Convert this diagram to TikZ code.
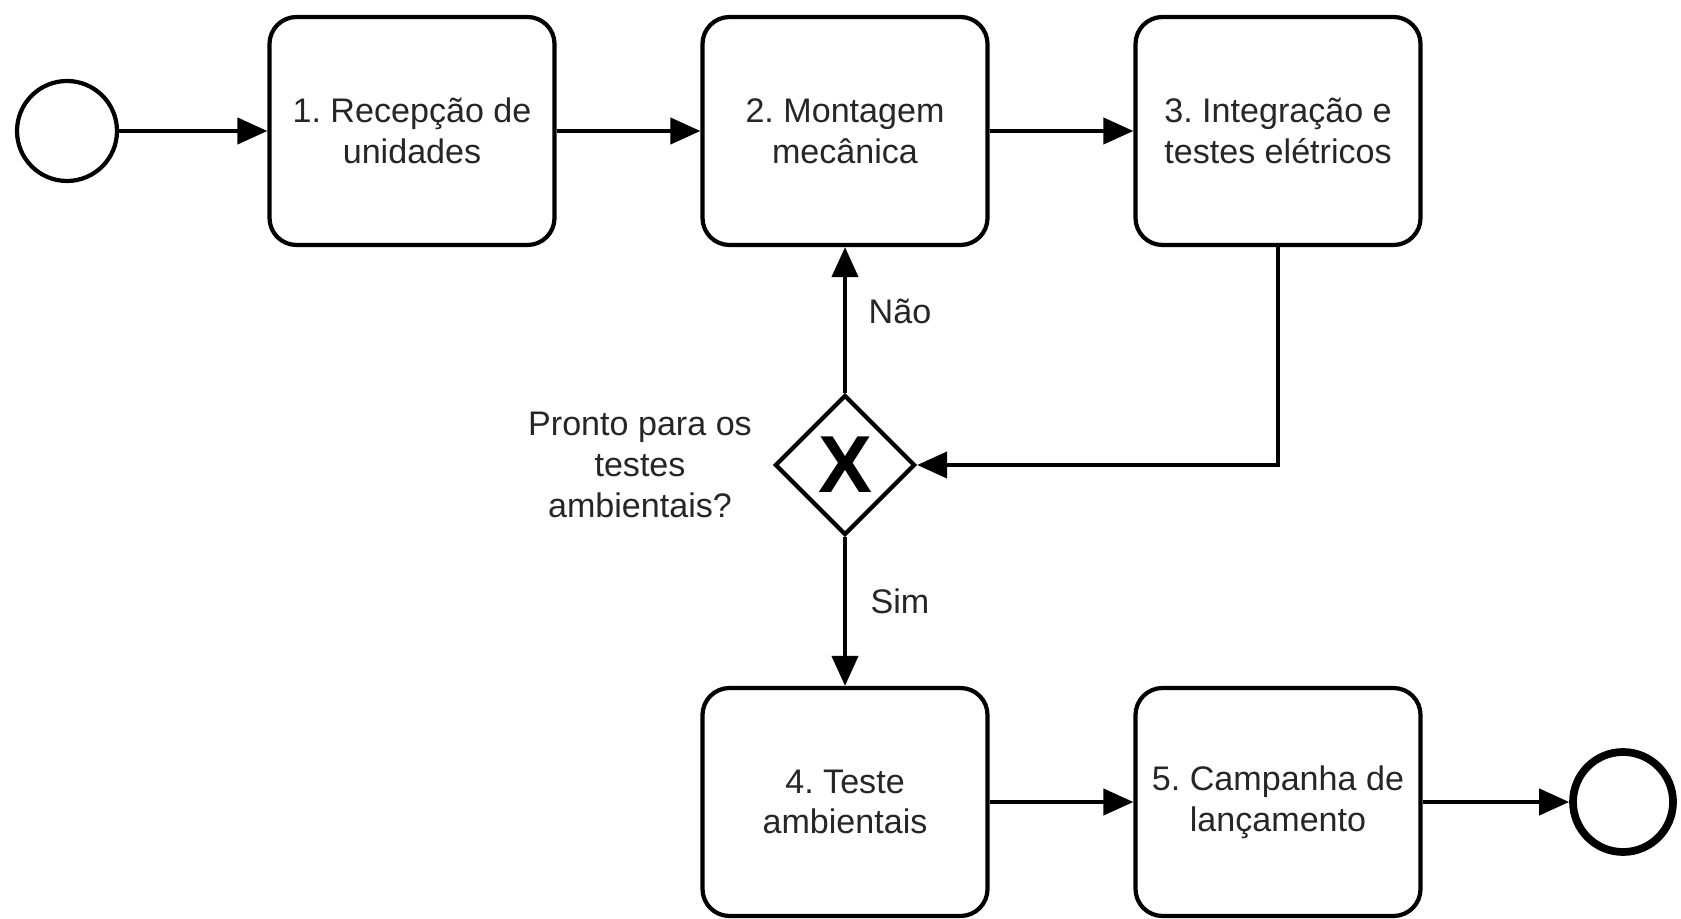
\documentclass[tikz,border=0pt]{standalone}
\usepackage{fontspec}
\setmainfont{Liberation Sans}
\usepackage{tikz}
\usetikzlibrary{arrows.meta,positioning}
\usetikzlibrary{shapes.geometric}
\colorlet{txt}{black!85}
\frenchspacing

\begin{document}
\begin{tikzpicture}[font=\fontsize{9.7}{11.6}\selectfont]

	\tikzstyle{task}=[rectangle,draw=black,line width=1.2pt,rounded corners=0.27cm,minimum width=2.85cm,minimum height=2.28cm,align=center,text=txt,node distance=4.33cm]
	\tikzstyle{event}=[circle,draw=black,line width=1.2pt,minimum size=1cm,inner sep=0pt]
	\tikzstyle{gate}=[diamond,draw=black,line width=1.2pt,minimum width=1.4cm,minimum height=1.4cm,inner sep=0pt,font=\fontsize{23}{23}\selectfont\bfseries]
	\tikzstyle{flow}=[line width=1.2pt,-{Triangle[length=0.3cm,width=0.26cm]}]

	\useasboundingbox (0,0) rectangle (16.81,-9.19);

	\node [task] (1) at (4.12,-1.31)		{1. Recepção de\\unidades};
	\node [task] (2) [right of=1]			{2. Montagem\\mecânica};
	\node [task] (3) [right of=2]			{3. Integração e\\testes elétricos};
	\node [event] (0) [left of=1,node distance=3.45cm]	{};
	\node [gate] (6) [below of=2,node distance=3.34cm]	{X};
	\node [task] (4) [below of=6,node distance=3.37cm]	{4. Teste\\ambientais};
	\node [task] (5) [right of=4]			{5. Campanha de\\lançamento};
	\node [event] (7) [right of=5,node distance=3.45cm,line width=2.2pt]	{};

	\node (q) at (6.40,-4.65) [align=center,text=txt]	{Pronto para os\\testes\\ambientais?};
	\node (nao) at (9.0,-3.11) [text=txt]	{Não};
	\node (sim) at (9.0,-6.01) [text=txt]	{Sim};

	\draw [flow] (0) -- (1);
	\draw [flow] (1) -- (2);
	\draw [flow] (2) -- (3);
	\draw [flow] (3.south) |- (6.east);
	\draw [flow] (6.north) -- (2.south);
	\draw [flow] (6.south) -- (4.north);
	\draw [flow] (4) -- (5);
	\draw [flow] (5) -- (7);
\end{tikzpicture}
\end{document}
